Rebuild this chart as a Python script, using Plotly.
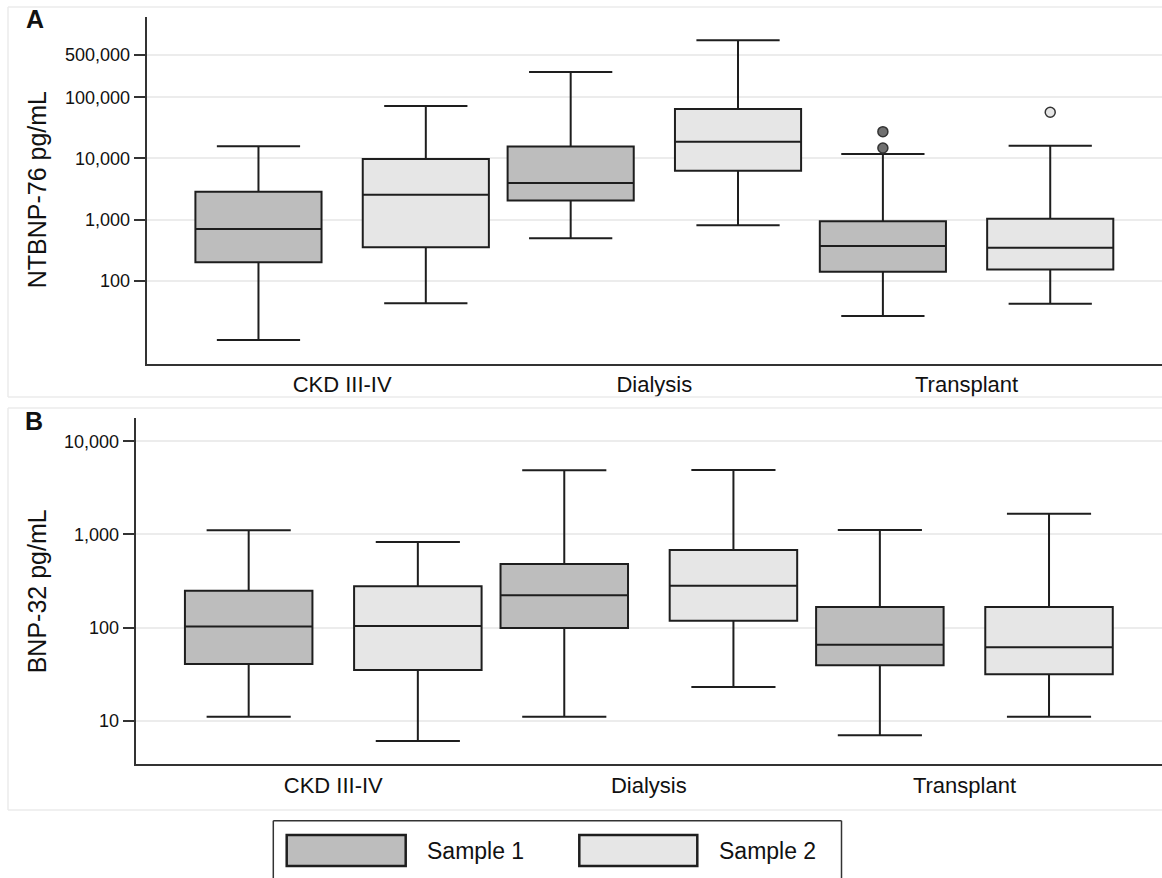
import plotly.graph_objects as go

# ---------------- data ----------------
categories = ["CKD III-IV", "Dialysis", "Transplant"]
series_names = ["Sample 1", "Sample 2"]

# Panel A: NTBNP-76 pg/mL  (lower whisker, Q1, median, Q3, upper whisker)
a_s1_low = [10.7, 494, 26.5]
a_s1_q1 = [200, 2040, 140]
a_s1_med = [701, 3960, 370]
a_s1_q3 = [2860, 15600, 937]
a_s1_high = [15800, 259000, 11800]

a_s2_low = [42.7, 805, 42]
a_s2_q1 = [351, 6300, 153]
a_s2_med = [2550, 18800, 347]
a_s2_q3 = [9800, 64400, 1033]
a_s2_high = [72100, 857000, 16100]

# Panel A outliers
a_s1_out_cat = ["Transplant", "Transplant"]
a_s1_out = [14830, 27350]
a_s2_out_cat = ["Transplant"]
a_s2_out = [56900]

# Panel B: BNP-32 pg/mL
b_s1_low = [11.0, 11.0, 7.0]
b_s1_q1 = [40.6, 98.9, 39.4]
b_s1_med = [103, 222, 65.5]
b_s1_q3 = [249, 482, 166]
b_s1_high = [1107, 4890, 1116]

b_s2_low = [6.05, 23.0, 11.0]
b_s2_q1 = [35.0, 118.6, 31.5]
b_s2_med = [104, 282, 61.4]
b_s2_q3 = [277, 681, 166]
b_s2_high = [830, 4920, 1671]

a_ticks = [100, 1000, 10000, 100000, 500000]
b_ticks = [10, 100, 1000, 10000]

# ---------------- style / layout constants ----------------
W, H = 1162, 878
FONT = "Liberation Sans, Arial, Helvetica, sans-serif"
INK = "#1e1e1e"
FILL = ["#bdbdbd", "#e6e6e6"]
OUT_FILL = ["#707070", "#e6e6e6"]
GROUP_OFFSET = 0.268   # offset of each sample's box from category centre
BOX_W = 0.404          # box width in category units
X_RANGE = [-0.626, 2.626]


def px(x):
    return x / W


def py(y):
    return 1 - y / H


cat_idx = {c: i for i, c in enumerate(categories)}
offsets = [-GROUP_OFFSET, GROUP_OFFSET]

fig = go.Figure()

panels = [
    ("x", "y", [(a_s1_low, a_s1_q1, a_s1_med, a_s1_q3, a_s1_high),
                (a_s2_low, a_s2_q1, a_s2_med, a_s2_q3, a_s2_high)]),
    ("x2", "y2", [(b_s1_low, b_s1_q1, b_s1_med, b_s1_q3, b_s1_high),
                  (b_s2_low, b_s2_q1, b_s2_med, b_s2_q3, b_s2_high)]),
]

for xa, ya, series in panels:
    for s, (lo, q1, med, q3, hi) in enumerate(series):
        fig.add_trace(go.Box(
            x=[i + offsets[s] for i in range(len(categories))],
            lowerfence=lo, q1=q1, median=med, q3=q3, upperfence=hi,
            width=BOX_W, whiskerwidth=0.66,
            fillcolor=FILL[s], line=dict(color=INK, width=2),
            boxpoints=False, name=series_names[s], showlegend=False,
            xaxis=xa, yaxis=ya,
        ))

outliers = [(a_s1_out_cat, a_s1_out, 0), (a_s2_out_cat, a_s2_out, 1)]
for cats, vals, s in outliers:
    fig.add_trace(go.Scatter(
        x=[cat_idx[c] + offsets[s] for c in cats], y=vals, mode="markers",
        marker=dict(size=10, color=OUT_FILL[s], line=dict(color="#333333", width=1.5)),
        showlegend=False, xaxis="x", yaxis="y", hoverinfo="y",
    ))

common_x = dict(range=X_RANGE, tickvals=list(range(len(categories))), ticktext=categories,
                showline=True, linecolor="#333333", linewidth=2, ticks="",
                showgrid=False, zeroline=False,
                tickfont=dict(family=FONT, size=22, color="#111111"))
common_y = dict(type="log", showline=True, linecolor="#333333", linewidth=2,
                ticks="outside", ticklen=11, tickwidth=1.5, tickcolor="#333333",
                showgrid=True, gridcolor="#ececec", gridwidth=1.5, zeroline=False,
                tickfont=dict(family=FONT, size=18, color="#111111"))

fig.update_layout(
    width=W, height=H, autosize=False,
    margin=dict(l=0, r=0, t=0, b=0),
    paper_bgcolor="white", plot_bgcolor="white",
    showlegend=False,
    font=dict(family=FONT, color="#111111"),
    xaxis=dict(domain=[px(146.7), 1], anchor="y", **common_x),
    yaxis=dict(domain=[py(364), py(16.7)], anchor="x", range=[0.637, 6.318],
               tickvals=a_ticks, ticktext=[f"{v:,}" for v in a_ticks], **common_y),
    xaxis2=dict(domain=[px(135.7), 1], anchor="y2", **common_x),
    yaxis2=dict(domain=[py(764.3), py(418.3)], anchor="x2", range=[0.532, 4.247],
                tickvals=b_ticks, ticktext=[f"{v:,}" for v in b_ticks], **common_y),
)

shapes = []
frame = dict(color="#ebebeb", width=1.5)
# faint panel frames (open to the right, where the picture is cut)
for top, bot in [(7, 397), (408, 810)]:
    shapes.append(dict(type="line", xref="paper", yref="paper",
                       x0=px(8), x1=1, y0=py(top), y1=py(top), line=frame))
    shapes.append(dict(type="line", xref="paper", yref="paper",
                       x0=px(8), x1=1, y0=py(bot), y1=py(bot), line=frame))
    shapes.append(dict(type="line", xref="paper", yref="paper",
                       x0=px(8), x1=px(8), y0=py(top), y1=py(bot), line=frame))
# legend frame (cut off at the bottom of the picture)
legend_frame = dict(color="#333333", width=1.5)
shapes.append(dict(type="line", xref="paper", yref="paper",
                   x0=px(273.3), x1=px(841.5), y0=py(820.7), y1=py(820.7), line=legend_frame))
for lx in (273.3, 841.5):
    shapes.append(dict(type="line", xref="paper", yref="paper",
                       x0=px(lx), x1=px(lx), y0=py(820.7), y1=0, line=legend_frame))
legend_items = [(286.7, 405.7, 425.0), (579.3, 697.3, 717.3)]
for s, (x0, x1, tx) in enumerate(legend_items):
    shapes.append(dict(type="rect", xref="paper", yref="paper",
                       x0=px(x0), x1=px(x1), y0=py(866), y1=py(835),
                       fillcolor=FILL[s], line=dict(color=INK, width=2.5)))
fig.update_layout(shapes=shapes)

annotations = [
    dict(text="<b>A</b>", x=px(35), y=py(19), xref="paper", yref="paper",
         xanchor="center", yanchor="middle",
         showarrow=False, font=dict(family=FONT, size=25, color="#111111")),
    dict(text="<b>B</b>", x=px(34), y=py(421), xref="paper", yref="paper",
         xanchor="center", yanchor="middle",
         showarrow=False, font=dict(family=FONT, size=25, color="#111111")),
    dict(text="NTBNP-76 pg/mL", x=px(37), y=py(190.3), xref="paper", yref="paper",
         xanchor="center", yanchor="middle",
         textangle=-90, showarrow=False, font=dict(family=FONT, size=25, color="#111111")),
    dict(text="BNP-32 pg/mL", x=px(37), y=py(591.3), xref="paper", yref="paper",
         xanchor="center", yanchor="middle",
         textangle=-90, showarrow=False, font=dict(family=FONT, size=25, color="#111111")),
]
for s, (x0, x1, tx) in enumerate(legend_items):
    annotations.append(dict(text=series_names[s], x=px(tx), y=py(850.5), xref="paper", yref="paper",
                            xanchor="left", yanchor="middle", showarrow=False,
                            font=dict(family=FONT, size=23, color="#111111")))
fig.update_layout(annotations=annotations)

fig.write_html("out.html", config={"displayModeBar": False},
               post_script="document.body.style.margin='0';document.body.style.overflow='hidden';")
